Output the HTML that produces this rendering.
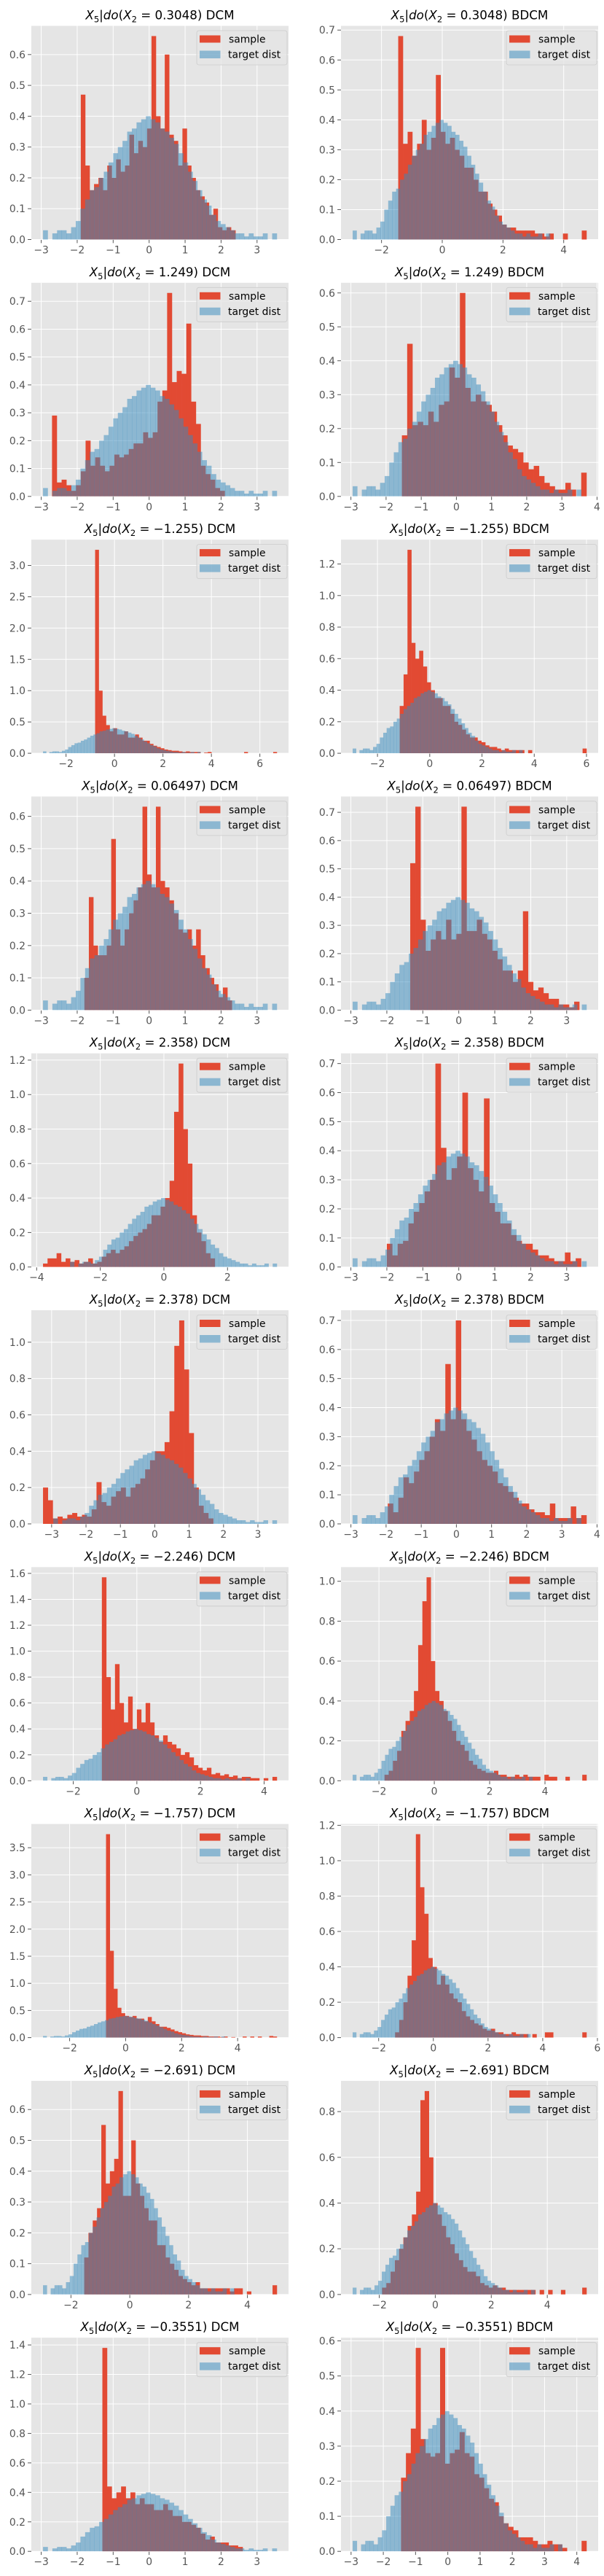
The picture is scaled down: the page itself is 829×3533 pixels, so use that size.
<!DOCTYPE html>
<html><head><meta charset="utf-8"><style>
html,body{margin:0;padding:0;background:#fff;}
svg{display:block;font-family:"DejaVu Sans","Liberation Sans",sans-serif;}
</style></head><body>
<svg id="fig" width="829" height="3533" viewBox="0 0 829 3533" xmlns="http://www.w3.org/2000/svg"></svg>
<script>
// ---- data ----
const rowValues = ["0.3048","1.249","−1.255","0.06497","2.358","2.378","−2.246","−1.757","−2.691","−0.3551"];
const methods = ["DCM","BDCM"];
const targetStart = -2.95, targetEnd = 3.55;
const targetValues = [0.03,0,0.02,0.03,0.03,0.02,0.04,0.06,0.1,0.13,0.16,0.17,0.2,0.22,0.25,0.28,0.3,0.32,0.35,0.36,0.38,0.39,0.4,0.39,0.38,0.36,0.35,0.33,0.31,0.28,0.25,0.22,0.19,0.16,0.13,0.11,0.08,0.06,0.05,0.04,0.03,0.02,0.02,0.01,0.02,0.01,0.01,0.02,0,0.02];
const sampleStarts = [-1.9,-1.45,-2.7,-1.55,-0.8,-1.15,-1.8,-1.35,-3.8,-2.0,-3.25,-1.95,-1.1,-1.8,-0.7,-1.4,-1.55,-1.9,-1.3,-1.45];
const sampleEnds   = [2.4,4.75,2.1,3.7,6.7,6.0,2.3,3.35,1.6,3.4,1.7,3.7,4.4,5.5,5.4,5.6,5.0,5.4,2.6,4.3];
const xTickSteps   = [1,2,1,1,2,2,1,1,2,1,1,1,2,2,2,2,2,2,1,1];
const sample01 = [0.47,0.24,0.16,0.18,0.2,0.16,0.24,0.2,0.26,0.22,0.24,0.34,0.28,0.32,0.3,0.36,0.66,0.4,0.36,0.6,0.34,0.32,0.24,0.36,0.24,0.2,0.16,0.14,0.12,0.08,0.1,0.04,0.03,0.04,0.03];
const sample02 = [0.68,0.32,0.36,0.28,0.32,0.4,0.3,0.34,0.55,0.36,0.32,0.34,0.3,0.28,0.24,0.24,0.2,0.16,0.16,0.12,0.1,0.08,0.05,0.04,0.04,0.03,0.03,0.03,0.03,0.02,0.02,0.01,0.02,0,0,0.02,0,0,0,0.03];
const sample03 = [0.29,0.05,0.06,0.04,0.02,0.04,0.09,0.2,0.11,0.14,0.11,0.09,0.11,0.15,0.14,0.15,0.17,0.19,0.19,0.23,0.21,0.23,0.34,0.38,0.73,0.41,0.45,0.44,0.62,0.34,0.26,0.11,0.08,0.06,0.03,0.02];
const sample04 = [0.18,0.45,0.21,0.22,0.21,0.25,0.22,0.27,0.28,0.38,0.35,0.6,0.32,0.28,0.3,0.28,0.27,0.25,0.21,0.18,0.15,0.14,0.13,0.1,0.08,0.09,0.06,0.04,0.03,0.02,0.02,0.04,0.02,0,0.07];
const sample05 = [3.25,1.0,0.6,0.45,0.35,0.4,0.3,0.3,0.35,0.25,0.25,0.3,0.25,0.2,0.2,0.15,0.12,0.1,0.08,0.06,0.05,0.04,0.04,0.03,0.02,0.03,0.02,0.02,0.02,0,0.01,0.02,0,0,0,0,0,0,0,0,0,0.02,0,0,0,0,0,0,0,0.02];
const sample06 = [0.3,0.5,1.29,0.7,0.6,0.65,0.55,0.45,0.4,0.35,0.35,0.3,0.3,0.25,0.2,0.18,0.15,0.12,0.1,0.1,0.08,0.07,0.05,0.04,0.04,0.03,0.02,0.03,0.02,0.02,0.02,0.02,0,0.02,0,0,0,0,0,0,0,0,0,0,0,0,0,0.03];
const sample07 = [0.1,0.35,0.2,0.17,0.17,0.2,0.53,0.25,0.2,0.25,0.3,0.34,0.38,0.63,0.42,0.38,0.63,0.4,0.38,0.34,0.3,0.25,0.24,0.25,0.2,0.25,0.17,0.13,0.1,0.08,0.04,0.07,0.03];
const sample08 = [0.52,0.72,0.32,0.21,0.25,0.28,0.25,0.32,0.25,0.27,0.72,0.28,0.28,0.32,0.27,0.25,0.21,0.18,0.14,0.14,0.1,0.14,0.35,0.1,0.07,0.08,0.06,0.04,0.04,0.02,0.02,0.01,0.03];
const sample09 = [0.02,0.05,0.05,0.08,0.03,0.05,0.03,0.04,0.02,0.03,0.05,0.02,0.03,0.06,0.08,0.1,0.08,0.1,0.12,0.15,0.18,0.2,0.22,0.25,0.3,0.3,0.35,0.4,0.5,0.9,1.18,0.8,0.6,0.3,0.2,0.15,0.08,0.05];
const sample10 = [0.08,0.04,0.08,0.09,0.15,0.19,0.22,0.26,0.3,0.7,0.41,0.3,0.34,0.38,0.6,0.34,0.3,0.26,0.58,0.22,0.19,0.15,0.15,0.11,0.09,0.08,0.08,0.06,0.04,0.04,0.03,0.02,0.02,0.05,0.02,0.03];
const sample11 = [0.2,0.13,0.03,0.04,0.03,0.05,0.06,0.04,0.05,0.04,0.08,0.23,0.12,0.1,0.15,0.18,0.2,0.15,0.2,0.22,0.25,0.3,0.35,0.4,0.4,0.45,0.62,0.98,1.12,0.85,0.5,0.2,0.1,0.06,0.03];
const sample12 = [0.07,0.04,0.09,0.16,0.14,0.18,0.22,0.25,0.3,0.36,0.32,0.55,0.36,0.7,0.36,0.32,0.29,0.25,0.22,0.2,0.18,0.14,0.13,0.11,0.09,0.07,0.07,0.05,0.04,0.04,0.03,0.07,0.02,0.02,0.02,0.06,0.02,0.03];
const sample13 = [1.57,0.8,0.55,0.9,0.6,0.45,0.65,0.4,0.55,0.45,0.6,0.45,0.35,0.3,0.35,0.3,0.28,0.25,0.2,0.22,0.18,0.12,0.1,0.08,0.1,0.05,0.06,0.04,0.05,0.03,0.04,0.02,0.03,0.03,0.02,0.02,0,0.02,0,0.03];
const sample14 = [0.03,0.05,0.1,0.15,0.25,0.3,0.35,0.45,0.68,0.9,1.02,0.6,0.45,0.4,0.35,0.3,0.25,0.2,0.18,0.15,0.1,0.08,0.06,0.05,0.04,0.04,0.05,0.03,0.03,0.02,0.02,0.03,0.02,0.03,0.02,0.02,0.02,0,0.03,0.02,0.02,0,0,0.02,0,0,0,0.03];
const sample15 = [3.75,1.6,0.9,0.55,0.45,0.4,0.38,0.4,0.35,0.35,0.3,0.38,0.3,0.25,0.2,0.2,0.18,0.15,0.12,0.1,0.08,0.06,0.05,0.04,0.04,0.03,0.03,0.02,0.02,0.02,0.01,0.02,0,0.01,0,0,0.02,0,0.02,0,0.02,0,0,0.03,0.02];
const sample16 = [0.03,0.1,0.2,0.35,0.55,1.15,0.85,0.7,0.45,0.4,0.3,0.35,0.3,0.25,0.22,0.2,0.15,0.12,0.1,0.08,0.07,0.05,0.04,0.05,0.03,0.03,0.02,0.02,0.03,0.02,0.02,0.02,0,0.02,0,0,0.03,0.03,0,0,0,0,0,0,0,0.03];
const sample17 = [0.12,0.2,0.24,0.28,0.55,0.36,0.4,0.44,0.66,0.32,0.32,0.5,0.36,0.32,0.28,0.24,0.24,0.16,0.16,0.12,0.1,0.08,0.06,0.05,0.04,0.03,0.04,0.02,0.02,0.02,0.02,0.02,0.02,0.02,0.01,0.02,0.02,0,0.01,0,0,0,0,0,0.03];
const sample18 = [0.03,0.05,0.1,0.15,0.2,0.25,0.3,0.35,0.45,0.85,0.89,0.6,0.4,0.35,0.3,0.25,0.22,0.18,0.15,0.12,0.1,0.1,0.08,0.05,0.04,0.03,0.04,0.03,0.03,0.02,0.02,0.02,0.02,0.02,0.02,0.02,0,0.02,0,0.02,0,0,0.02,0,0,0,0,0.03];
const sample19 = [1.38,0.44,0.36,0.4,0.44,0.36,0.4,0.32,0.36,0.32,0.32,0.28,0.28,0.32,0.28,0.24,0.24,0.2,0.2,0.18,0.16,0.12,0.08,0.1,0.06,0.06,0.06,0.04,0.04,0.03];
const sample20 = [0.21,0.28,0.35,0.58,0.32,0.28,0.27,0.28,0.58,0.25,0.28,0.29,0.34,0.28,0.27,0.22,0.21,0.18,0.15,0.14,0.1,0.08,0.07,0.06,0.04,0.04,0.04,0.03,0.02,0.02,0.03,0.02,0.02,0.01,0,0,0,0.03];
const sampleSets = [sample01,sample02,sample03,sample04,sample05,sample06,sample07,sample08,sample09,sample10,sample11,sample12,sample13,sample14,sample15,sample16,sample17,sample18,sample19,sample20];

// ---- render ----
const NS = "http://www.w3.org/2000/svg";
const svg = document.getElementById('fig');
function mk(tag, attrs, parent){
  const e = document.createElementNS(NS, tag);
  for (const k in attrs) e.setAttribute(k, attrs[k]);
  (parent||svg).appendChild(e);
  return e;
}
const colX = [43, 468], axW = 353, axH = 293, top0 = 35.5, rowPitch = 352.3;
function fmtTick(v, step){
  const d = step < 1 ? (step===0.25?2:1) : 0;
  let s = Math.abs(v) < 1e-9 ? (0).toFixed(d) : v.toFixed(d);
  return s.replace('-', '−');
}
function yStep(ymax){
  const cands = [0.1,0.2,0.25,0.5,1,2];
  for (const c of cands) if (ymax / c <= 9) return c;
  return 5;
}
for (let p = 0; p < 20; p++){
  const r = Math.floor(p/2), c = p%2;
  const X0 = colX[c], Y0 = top0 + r*rowPitch;
  const vals = sampleSets[p];
  const s0 = sampleStarts[p], s1 = sampleEnds[p];
  const dmin = Math.min(targetStart, s0), dmax = Math.max(targetEnd, s1);
  const pad = 0.05*(dmax-dmin);
  const xmin = dmin - pad, xmax = dmax + pad;
  const ymaxData = Math.max(Math.max(...vals), Math.max(...targetValues));
  const ymax = ymaxData*1.05;
  const xs = v => X0 + (v - xmin)/(xmax - xmin)*axW;
  const ys = v => Y0 + axH - v/ymax*axH;

  const g = mk('g', {});
  
  
  const bg = mk('rect', {x:X0, y:Y0, width:axW, height:axH, fill:'#E5E5E5'}, g);
  
  
  const clipId = 'clip'+p;
  const cp = mk('clipPath', {id:clipId}, g);
  mk('rect', {x:X0, y:Y0, width:axW, height:axH}, cp);

  const xst = xTickSteps[p];
  const gx = mk('g', {}, g);
  
  
  for (let t = Math.ceil(xmin/xst)*xst; t <= xmax + 1e-9; t += xst){
    const x = xs(t);
    mk('line', {x1:x, x2:x, y1:Y0, y2:Y0+axH, stroke:'#fff', 'stroke-width':1}, gx);
    mk('line', {x1:x, x2:x, y1:Y0+axH, y2:Y0+axH+4.9, stroke:'#555', 'stroke-width':1}, gx);
    const tl = mk('text', {x:x, y:Y0+axH+19, 'text-anchor':'middle', 'font-size':'13.9', fill:'#555'}, gx);
    tl.textContent = fmtTick(t, xst);
    
    
  }
  const yst = yStep(ymax);
  const gy = mk('g', {}, g);
  
  
  for (let i = 0; i*yst <= ymax + 1e-9; i++){
    const t = i*yst, y = ys(t);
    mk('line', {x1:X0, x2:X0+axW, y1:y, y2:y, stroke:'#fff', 'stroke-width':1}, gy);
    mk('line', {x1:X0-4.9, x2:X0, y1:y, y2:y, stroke:'#555', 'stroke-width':1}, gy);
    const tl = mk('text', {x:X0-8, y:y+5, 'text-anchor':'end', 'font-size':'13.9', fill:'#555'}, gy);
    tl.textContent = fmtTick(t, yst);
    
    
  }

  const bars = mk('g', {'clip-path':'url(#'+clipId+')'}, g);
  const sw = (s1 - s0)/vals.length;
  vals.forEach((v, i) => {
    if (v <= 0) return;
    const xa = xs(s0 + i*sw), xb = xs(s0 + (i+1)*sw);
    const b = mk('rect', {x:xa, y:ys(v), width:xb-xa+0.3, height:ys(0)-ys(v), fill:'#E24A33'}, bars);
    
    
  });
  const tw = (targetEnd - targetStart)/targetValues.length;
  targetValues.forEach((v, i) => {
    if (v <= 0) return;
    const xa = xs(targetStart + i*tw), xb = xs(targetStart + (i+1)*tw);
    const b = mk('rect', {x:xa, y:ys(v), width:xb-xa+0.3, height:ys(0)-ys(v), fill:'#348ABD', 'fill-opacity':0.5}, bars);
    
    
  });

  const tt = mk('text', {x:X0+axW/2, y:Y0-9, 'text-anchor':'middle', 'font-size':'16.7', fill:'#000'}, g);
  
  
  tt.innerHTML = '<tspan font-style="italic">X</tspan><tspan font-size="11.5" dy="4">5</tspan><tspan dy="-4">|</tspan><tspan font-style="italic">do</tspan>(<tspan font-style="italic">X</tspan><tspan font-size="11.5" dy="4">2</tspan><tspan dy="-4"> = ' + rowValues[r] + ') ' + methods[c] + '</tspan>';

  const lg = mk('g', {}, g);
  
  
  const LX = X0 + axW - 126, LY = Y0 + 6.5;
  mk('rect', {x:LX, y:LY, width:124, height:47, rx:3, fill:'#E5E5E5', 'fill-opacity':0.8, stroke:'#CCCCCC', 'stroke-width':0.8}, lg);
  const e1 = mk('rect', {x:LX+4, y:LY+6.5, width:28.5, height:10, fill:'#E24A33'}, lg);
  
  
  const e2 = mk('rect', {x:LX+4, y:LY+27.5, width:28.5, height:10.5, fill:'#348ABD', 'fill-opacity':0.5}, lg);
  
  
  const l1 = mk('text', {x:LX+44, y:LY+16.5, 'font-size':'13.9', fill:'#000'}, lg);
  l1.textContent = 'sample';
  
  
  const l2 = mk('text', {x:LX+43, y:LY+37.5, 'font-size':'13.9', fill:'#000'}, lg);
  l2.textContent = 'target dist';
  
  
}
</script>
</body></html>
